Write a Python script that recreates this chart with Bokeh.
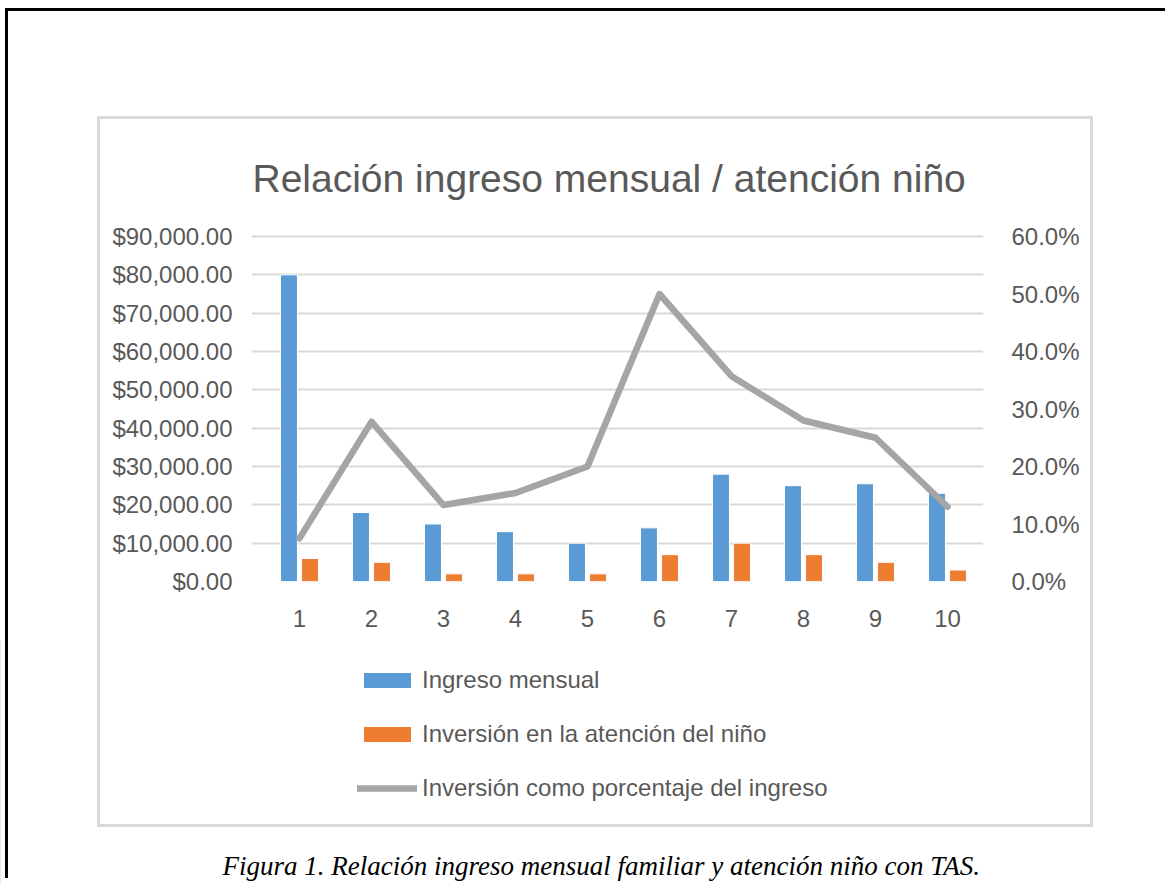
from bokeh.plotting import figure
from bokeh.models import (ColumnDataSource, LinearAxis, Range1d, FixedTicker,
                          NumeralTickFormatter, Legend, LegendItem, Label,
                          InlineStyleSheet, Column)
from bokeh.transform import dodge
from bokeh.embed import file_html
from bokeh.resources import INLINE

# ---- data ----
casos = [1, 2, 3, 4, 5, 6, 7, 8, 9, 10]
ingreso_mensual = [80000, 18000, 15000, 13000, 10000, 14000, 28000, 25000, 25500, 23000]
inversion_nino = [6000, 5000, 2000, 2000, 2000, 7000, 10000, 7000, 5000, 3000]
porcentaje = [0.075, 0.278, 0.133, 0.154, 0.20, 0.50, 0.357, 0.28, 0.25, 0.13]
y_ticks = [0, 10000, 20000, 30000, 40000, 50000, 60000, 70000, 80000, 90000]
pct_ticks = [0.0, 0.1, 0.2, 0.3, 0.4, 0.5, 0.6]

titulo = "Relación ingreso mensual / atención niño"
leyendas = ["Ingreso mensual", "Inversión en la atención del niño",
            "Inversión como porcentaje del ingreso"]
pie = "Figura 1. Relación ingreso mensual familiar y atención niño con TAS."

BLUE = "#5b9bd5"
ORANGE = "#ed7d31"
GRAY = "#a5a5a5"
TXT = "#595959"
SANS = "Liberation Sans"
FS = "24px"

src = ColumnDataSource(dict(x=casos, ing=ingreso_mensual, inv=inversion_nino, pct=porcentaje))

# ---- layout constants (pixels) ----
W = 1170
H1, H2 = 640, 244
F_LEFT, F_RIGHT, F_TOP, F_BOTTOM = 251, 983, 140, 581   # frame of the chart
G_TOP = 236                                             # where the top tick sits
CAT_PX = 72                                             # pixels per category
ext = (F_BOTTOM - F_TOP) / (F_BOTTOM - G_TOP)           # frame extends above the top tick

deco = InlineStyleSheet(css="""
:host::before { content: ""; position: absolute; left: 97px; top: 116px;
  width: 996px; height: 711px; box-sizing: border-box; border: 3px solid #d9d9d9;
  pointer-events: none; z-index: 10; }
:host::after { content: ""; position: absolute; left: 5px; top: 8px;
  width: 1160px; height: 870px; box-sizing: border-box;
  border-top: 3px solid #000; border-left: 3px solid #000;
  pointer-events: none; z-index: 10; }
""")

# ---- main chart ----
p = figure(width=W, height=H1, output_backend="svg", toolbar_location=None,
           x_range=Range1d(0.5 - (263 - F_LEFT) / CAT_PX, 10.5),
           y_range=Range1d(0, y_ticks[-1] * ext),
           min_border_left=F_LEFT, min_border_right=W - F_RIGHT,
           min_border_top=F_TOP, min_border_bottom=H1 - F_BOTTOM,
           background_fill_color="white", border_fill_color="white", title=None)
p.outline_line_color = None
p.extra_y_ranges = {"pct": Range1d(0, pct_ticks[-1] * ext)}

p.xaxis.ticker = FixedTicker(ticks=casos)
p.yaxis.ticker = FixedTicker(ticks=y_ticks)
p.yaxis.formatter = NumeralTickFormatter(format="$0,0.00")
ax_r = LinearAxis(y_range_name="pct", ticker=FixedTicker(ticks=pct_ticks),
                  formatter=NumeralTickFormatter(format="0.0%"))
p.add_layout(ax_r, "right")
for ax in [p.xaxis[0], p.yaxis[0], ax_r]:
    ax.axis_line_color = None
    ax.major_tick_line_color = None
    ax.minor_tick_line_color = None
    ax.major_label_text_color = TXT
    ax.major_label_text_font = SANS
    ax.major_label_text_font_size = FS
p.yaxis[0].major_label_standoff = F_LEFT - 238
ax_r.major_label_standoff = 22
p.xaxis[0].major_label_standoff = 22

p.xgrid.grid_line_color = None
p.ygrid.grid_line_color = "#d9d9d9"
p.ygrid.grid_line_width = 2
p.ygrid.ticker = FixedTicker(ticks=y_ticks)

p.vbar(x=dodge("x", -0.146, range=p.x_range), top="ing", width=0.235, source=src,
       fill_color=BLUE, line_color="white", line_width=1)
p.vbar(x=dodge("x", 0.146, range=p.x_range), top="inv", width=0.235, source=src,
       fill_color=ORANGE, line_color="white", line_width=1)
p.line(x="x", y="pct", y_range_name="pct", source=src, line_color=GRAY,
       line_width=6.5, line_join="round", line_cap="round")

# title: em-box middle of 39px text whose baseline sits at y=192
p.add_layout(Label(x=1, y=F_BOTTOM - 178, x_units="screen", y_units="screen",
                   text=titulo, text_align="left", text_baseline="middle",
                   text_font=SANS, text_font_size="39px", text_color=TXT))

# ---- legend + caption strip (legend keys reuse the data source, outside the view) ----
q = figure(width=W, height=H2, output_backend="svg", toolbar_location=None,
           x_range=Range1d(100, 101), y_range=Range1d(0, 1),
           x_axis_type=None, y_axis_type=None, min_border=0,
           background_fill_color="white", border_fill_color="white", title=None)
q.outline_line_color = None
q.xgrid.visible = False
q.ygrid.visible = False

QL = 0
try:
    q.frame_align = False
    p.frame_align = False
except AttributeError:
    QL = F_LEFT

k1 = q.vbar(x="x", top="ing", width=0.2, source=src, fill_color=BLUE,
            line_color="white", line_width=1)
k2 = q.vbar(x="x", top="inv", width=0.2, source=src, fill_color=ORANGE,
            line_color="white", line_width=1)
k3 = q.line(x="x", y="pct", source=src, line_color=GRAY, line_width=6.5,
            line_cap="round")
legend = Legend(items=[LegendItem(label=leyendas[0], renderers=[k1]),
                       LegendItem(label=leyendas[1], renderers=[k2]),
                       LegendItem(label=leyendas[2], renderers=[k3])],
                location=(357 - QL, H2 - (802 - H1)), orientation="vertical",
                glyph_width=60, glyph_height=20, label_height=27,
                label_standoff=5, spacing=26,
                padding=0, margin=0, border_line_color=None, background_fill_alpha=0,
                label_text_font=SANS, label_text_font_size=FS, label_text_color=TXT)
q.add_layout(legend, "center")
# caption: em-box middle of 27px text whose baseline sits at y=874
q.add_layout(Label(x=222 - QL, y=H2 - (865 - H1), x_units="screen", y_units="screen",
                   text=pie, text_align="left", text_baseline="middle",
                   text_font="Liberation Serif", text_font_style="italic",
                   text_font_size="27px", text_color="black"))

page = Column(children=[p, q], spacing=0, stylesheets=[deco])
open("out.html", "w").write(file_html(page, INLINE))
